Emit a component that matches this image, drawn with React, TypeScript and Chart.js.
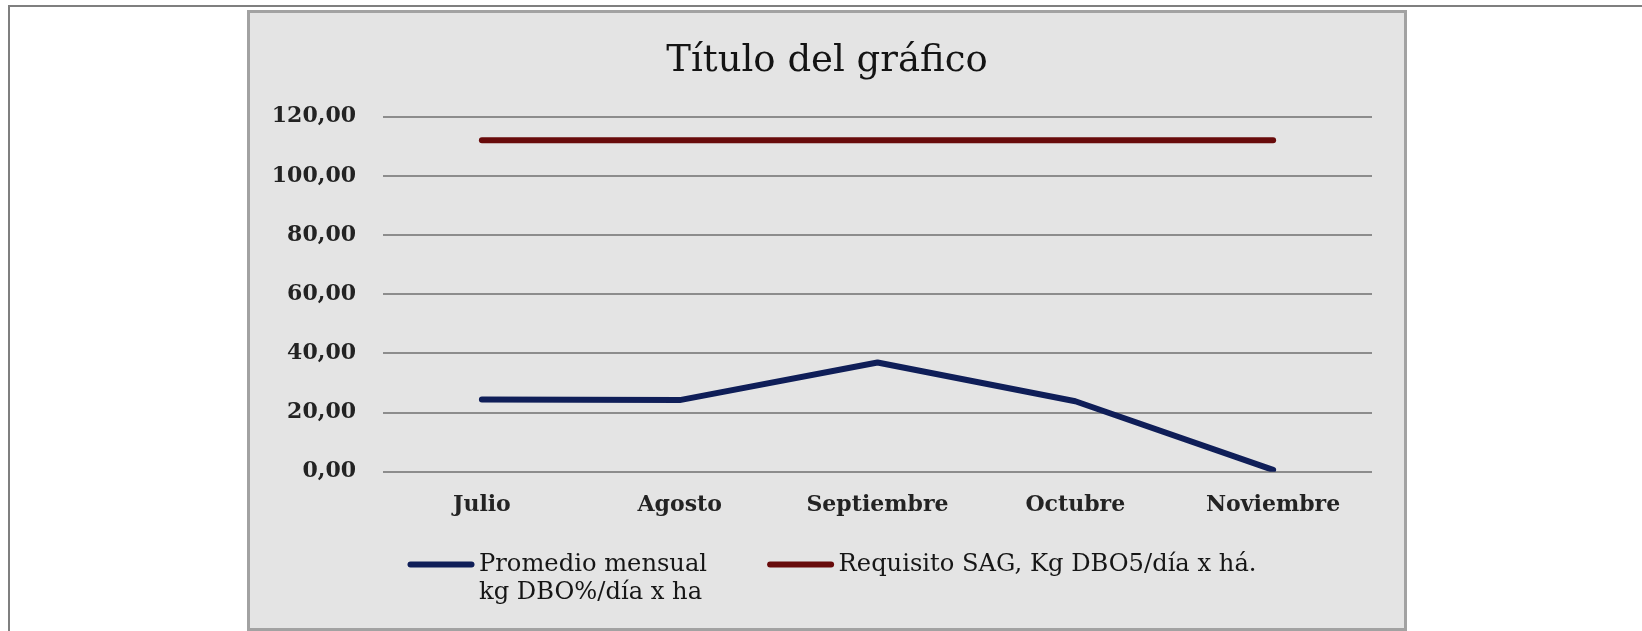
import React, { useEffect, useRef } from 'react';
import { Chart, registerables } from 'chart.js';

Chart.register(...registerables);

const chartTitle = 'Título del gráfico';
const categories = ['Julio', 'Agosto', 'Septiembre', 'Octubre', 'Noviembre'];
const promedioMensual = [24.4, 24.2, 36.9, 23.8, 0.6];
const requisitoSAG = [112, 112, 112, 112, 112];
const promedioLabel = 'Promedio mensual\nkg DBO%/día x ha';
const requisitoLabel = 'Requisito SAG, Kg DBO5/día x há.';
const yMin = 0;
const yMax = 120;
const yStep = 20;

const SERIF = '"DejaVu Serif", serif';

const legendPlugin = {
  id: 'customLegend',
  afterDraw(chart: any) {
    const ctx = chart.ctx;
    const sample = 67;
    const gap = 4.5;
    const itemGap = 60;
    const fontSize = 24.2;
    const lineH = 28.5;
    ctx.save();
    ctx.font = `normal ${fontSize}px ${SERIF}`;
    const items = chart.data.datasets.map((ds: any) => {
      const lines = String(ds.label).split('\n');
      const w = Math.max(...lines.map((l: string) => ctx.measureText(l).width));
      return { ds, lines, w: sample + gap + w };
    });
    const total = items.reduce((a: number, it: any) => a + it.w, 0) + itemGap * (items.length - 1);
    let x = chart.width / 2 + 5 - total / 2;
    const y = chart.scales.x.bottom + 46.5;
    items.forEach((it: any) => {
      ctx.strokeStyle = it.ds.borderColor;
      ctx.lineWidth = it.ds.borderWidth;
      ctx.lineCap = 'round';
      ctx.beginPath();
      ctx.moveTo(x + it.ds.borderWidth / 2, y);
      ctx.lineTo(x + sample - it.ds.borderWidth / 2, y);
      ctx.stroke();
      ctx.fillStyle = '#161616';
      ctx.textAlign = 'left';
      ctx.textBaseline = 'middle';
      it.lines.forEach((l: string, i: number) => {
        ctx.fillText(l, x + sample + gap, y + i * lineH);
      });
      x += it.w + itemGap;
    });
    ctx.restore();
  },
};

export default function App() {
  const canvasRef = useRef<HTMLCanvasElement | null>(null);

  useEffect(() => {
    if (!canvasRef.current) return;
    const chart = new Chart(canvasRef.current, {
      type: 'line',
      data: {
        labels: categories,
        datasets: [
          {
            label: promedioLabel,
            data: promedioMensual,
            borderColor: '#0f1e58',
            backgroundColor: '#0f1e58',
            borderWidth: 6,
            borderCapStyle: 'round',
            borderJoinStyle: 'round',
            pointRadius: 0,
            tension: 0,
            fill: false,
            yAxisID: 'y',
          },
          {
            label: requisitoLabel,
            data: requisitoSAG,
            borderColor: '#680b0b',
            backgroundColor: '#680b0b',
            borderWidth: 6,
            borderCapStyle: 'round',
            borderJoinStyle: 'round',
            pointRadius: 0,
            tension: 0,
            fill: false,
            yAxisID: 'y',
          },
        ],
      },
      options: {
        responsive: false,
        animation: false,
        devicePixelRatio: 1,
        events: [],
        layout: { padding: { left: 0, right: 0, top: 0, bottom: 109.9 } },
        plugins: {
          legend: { display: false },
          tooltip: { enabled: false },
          title: {
            display: true,
            text: chartTitle,
            color: '#141414',
            font: { family: SERIF, size: 37, weight: 'normal' },
            padding: { top: 26, bottom: 33.2 },
          },
        },
        scales: {
          x: {
            offset: true,
            grid: { display: false, drawTicks: false },
            border: { display: false },
            ticks: {
              color: '#232323',
              font: { family: SERIF, size: 22, weight: 'bold' },
              padding: 20,
              maxRotation: 0,
            },
            afterFit: (scale: any) => {
              scale.height = 46.4;
            },
          },
          y: {
            position: 'left',
            min: yMin,
            max: yMax,
            grid: { color: '#8c8c8c', lineWidth: 2, drawTicks: false },
            border: { display: false },
            ticks: {
              stepSize: yStep,
              color: '#232323',
              font: { family: SERIF, size: 22, weight: 'bold' },
              padding: 27,
              callback: (v: any) => Number(v).toFixed(2).replace('.', ','),
            },
            afterFit: (scale: any) => {
              scale.width = 132;
            },
          },
          spacer: {
            type: 'linear',
            position: 'right',
            display: true,
            grid: { display: false, drawTicks: false },
            border: { display: false },
            ticks: { display: false },
            afterFit: (scale: any) => {
              scale.width = 31;
            },
          },
        },
      },
      plugins: [legendPlugin],
    } as any);
    return () => chart.destroy();
  }, []);

  return (
    <div style={{ position: 'fixed', left: 0, top: 0, width: 1642, height: 631, background: '#ffffff', overflow: 'hidden' }}>
      <div style={{ position: 'absolute', left: 8, top: 5, width: 1700, height: 700, borderLeft: '2px solid #7f7f7f', borderTop: '2px solid #7f7f7f' }} />
      <div
        style={{
          position: 'absolute',
          left: 247,
          top: 10,
          width: 1160,
          height: 621,
          boxSizing: 'border-box',
          border: '3px solid #a2a2a2',
          background: '#e4e4e4',
        }}
      />
      <canvas
        ref={canvasRef}
        width={1152}
        height={615}
        style={{ position: 'absolute', left: 251, top: 13, width: 1152, height: 615 }}
      />
    </div>
  );
}
